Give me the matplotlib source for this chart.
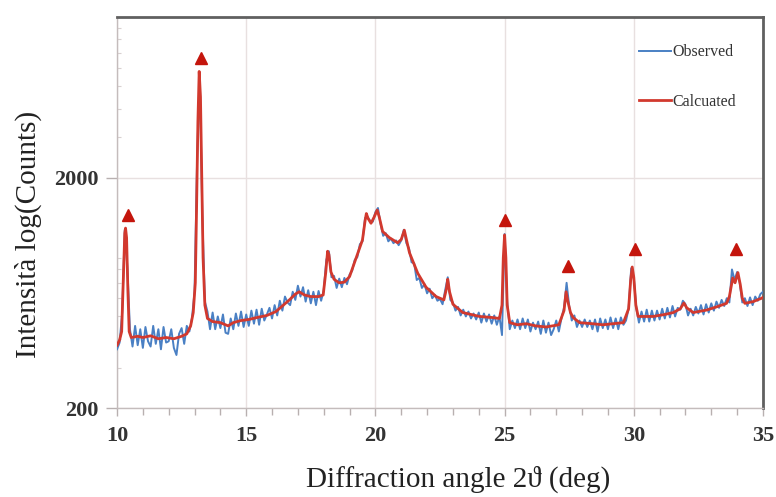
import numpy as np
import matplotlib
matplotlib.use("Agg")
import matplotlib.pyplot as plt
from matplotlib.ticker import FixedLocator, MultipleLocator, NullFormatter, LogLocator

# calculated profile (angle in deg, counts)
CALC_ANGLE = [
    10.00, 10.10, 10.18, 10.24, 10.30, 10.33, 10.37, 10.42, 10.47, 10.55,
    10.80, 11.00, 11.30, 11.60, 11.90, 12.20, 12.50, 12.70, 12.85, 12.95,
    13.03, 13.08, 13.13, 13.18, 13.23, 13.28, 13.33, 13.40, 13.50, 13.70,
    14.00, 14.30, 14.50, 14.80, 15.10, 15.50, 15.80, 16.15, 16.40, 16.67,
    16.90, 17.05, 17.25, 17.50, 17.80, 17.98, 18.08, 18.15, 18.20, 18.28,
    18.40, 18.60, 18.80, 19.00, 19.25, 19.50, 19.60, 19.65, 19.72, 19.83,
    19.95, 20.07, 20.15, 20.28, 20.54, 20.86, 21.00, 21.12, 21.20, 21.32,
    21.64, 21.96, 22.35, 22.65, 22.75, 22.80, 22.87, 23.00, 23.38, 24.03,
    24.50, 24.80, 24.90, 24.95, 25.00, 25.05, 25.10, 25.20, 25.50, 25.84,
    26.20, 26.60, 27.10, 27.30, 27.38, 27.45, 27.55, 27.65, 27.90, 28.40,
    28.80, 29.20, 29.60, 29.80, 29.88, 29.94, 30.00, 30.08, 30.17, 30.75,
    31.20, 31.53, 31.80, 31.94, 32.05, 32.30, 32.82, 33.20, 33.59, 33.70,
    33.83, 33.92, 34.03, 34.12, 34.20, 34.30, 34.62, 34.95, 35.00,
]
CALC_COUNTS = [
    375, 395, 430, 700, 1150, 1210, 1100, 650, 430, 405,
    410, 405, 412, 400, 405, 400, 410, 420, 455, 520,
    700, 1500, 3500, 5800, 4500, 2000, 900, 560, 490, 475,
    470, 455, 470, 480, 485, 497, 505, 525, 555, 590,
    625, 640, 620, 610, 610, 620, 780, 960, 930, 780,
    725, 700, 705, 745, 895, 1075, 1300, 1400, 1330, 1270,
    1350, 1450, 1350, 1170, 1100, 1045, 1080, 1185, 1080, 945,
    770, 670, 610, 590, 660, 725, 640, 565, 520, 500,
    495, 490, 560, 900, 1130, 900, 560, 470, 460, 465,
    455, 450, 460, 530, 640, 580, 520, 495, 470, 465,
    460, 465, 470, 540, 720, 820, 740, 560, 500, 500,
    510, 520, 540, 572, 545, 520, 533, 550, 570, 610,
    735, 700, 775, 690, 600, 570, 580, 600, 605,
]

# observed scan, 0.1 deg step from 10 to 35
OBS_START = 10.0
OBS_STEP = 0.1
OBS_COUNTS = [
    360, 385, 520, 1190, 820, 440, 370, 455, 375, 440,
    365, 450, 390, 370, 455, 380, 440, 360, 450, 385,
    390, 440, 365, 340, 420, 445, 380, 455, 430, 490,
    640, 2400, 5700, 1400, 580, 525, 440, 520, 440, 500,
    445, 510, 425, 420, 490, 440, 515, 455, 525, 450,
    510, 455, 530, 465, 535, 460, 540, 480, 510, 545,
    490, 560, 505, 585, 530, 610, 575, 560, 640, 590,
    680, 610, 670, 580, 650, 570, 640, 560, 645, 585,
    650, 880, 960, 740, 750, 665, 730, 670, 735, 690,
    760, 790, 880, 905, 1030, 1060, 1340, 1350, 1300, 1290,
    1420, 1480, 1260, 1120, 1150, 1060, 1090, 1040, 1070, 1020,
    1070, 1190, 1040, 990, 860, 850, 720, 735, 665, 690,
    630, 660, 600, 620, 585, 595, 565, 650, 740, 590,
    575, 530, 550, 505, 535, 500, 525, 490, 515, 485,
    520, 470, 515, 475, 510, 465, 505, 460, 500, 415,
    1140, 580, 440, 480, 445, 485, 440, 490, 445, 485,
    430, 470, 440, 475, 420, 480, 425, 470, 415, 440,
    480, 430, 490, 545, 700, 555, 480, 505, 450, 480,
    450, 485, 450, 480, 440, 485, 430, 490, 445, 485,
    440, 495, 445, 490, 440, 495, 460, 480, 540, 810,
    740, 540, 470, 525, 475, 535, 475, 530, 480, 530,
    485, 540, 490, 545, 495, 555, 500, 545, 535, 585,
    565, 505, 540, 505, 550, 515, 560, 510, 565, 520,
    570, 530, 580, 545, 590, 555, 600, 575, 800, 720,
    780, 700, 575, 600, 555, 605, 560, 610, 585, 625,
    640,
]

# triangles above the indexed reflections
PEAK_ANGLE = [10.42, 13.24, 25.02, 27.44, 30.04, 33.95]
PEAK_MARK = [1380, 6650, 1313, 828, 980, 980]

BLUE = "#4a80c4"
RED = "#d2392e"
MARK = "#c4150c"
SERIF = ["Liberation Serif", "DejaVu Serif"]


def main() -> None:
    plt.rcParams["font.family"] = SERIF

    obs_angle = OBS_START + OBS_STEP * np.arange(len(OBS_COUNTS))

    fig = plt.figure(figsize=(7.76, 4.97), dpi=100)
    ax = fig.add_axes([0.1508, 0.179, 0.8324, 0.7868])

    ax.plot(obs_angle, OBS_COUNTS, color=BLUE, linewidth=1.4, label="Observed", zorder=3)
    ax.plot(CALC_ANGLE, CALC_COUNTS, color=RED, linewidth=2.0, label="Calcuated", zorder=4)
    ax.plot(PEAK_ANGLE, PEAK_MARK, linestyle="none", marker="^", markersize=8.5,
            color=MARK, zorder=5)

    ax.set_yscale("log")
    ax.set_xlim(10, 35)
    ax.set_ylim(200, 10000)

    ax.xaxis.set_major_locator(MultipleLocator(5))
    ax.xaxis.set_minor_locator(MultipleLocator(1))
    ax.yaxis.set_major_locator(FixedLocator([200, 2000]))
    ax.yaxis.set_major_formatter(plt.FuncFormatter(lambda v, p: f"{v:.0f}"))
    ax.yaxis.set_minor_locator(LogLocator(base=10, subs=np.arange(2, 10)))
    ax.yaxis.set_minor_formatter(NullFormatter())

    ax.grid(True, which="major", color="#e8e0e0", linewidth=1.0)
    ax.set_axisbelow(True)

    ax.tick_params(axis="x", which="major", direction="out", length=6, width=1,
                   color="#b8b0b0", labelsize=16, pad=7)
    ax.tick_params(axis="x", which="minor", direction="out", length=5, width=1,
                   color="#b8b0b0")
    ax.tick_params(axis="y", which="major", direction="out", length=8, width=1,
                   color="#b8b0b0", labelsize=16, pad=5)
    ax.tick_params(axis="y", which="minor", direction="in", length=3, width=0.8,
                   color="#d8d0d0")
    for lab in ax.get_xticklabels() + ax.get_yticklabels():
        lab.set_fontweight("bold")
        lab.set_color("#333333")

    for side in ("top", "right"):
        ax.spines[side].set_color("#606060")
        ax.spines[side].set_linewidth(2.0)
    for side in ("left", "bottom"):
        ax.spines[side].set_color("#c4bcbc")
        ax.spines[side].set_linewidth(1.0)

    ax.set_xlabel("Diffraction angle 2\u03d1 (deg)", fontsize=21, color="#222222", labelpad=14)
    ax.xaxis.label.set_x(0.528)
    ax.set_ylabel("Intensit\u00e0 log(Counts)", fontsize=21, color="#222222", labelpad=9)
    ax.yaxis.label.set_y(0.445)

    leg = ax.legend(loc="upper right", frameon=False, fontsize=11.5, handlelength=2.0,
                    handletextpad=0.1, labelspacing=2.1, borderaxespad=1.3)
    for t in leg.get_texts():
        t.set_color("#333333")

    fig.savefig("out.png", dpi=100)


if __name__ == "__main__":
    main()
